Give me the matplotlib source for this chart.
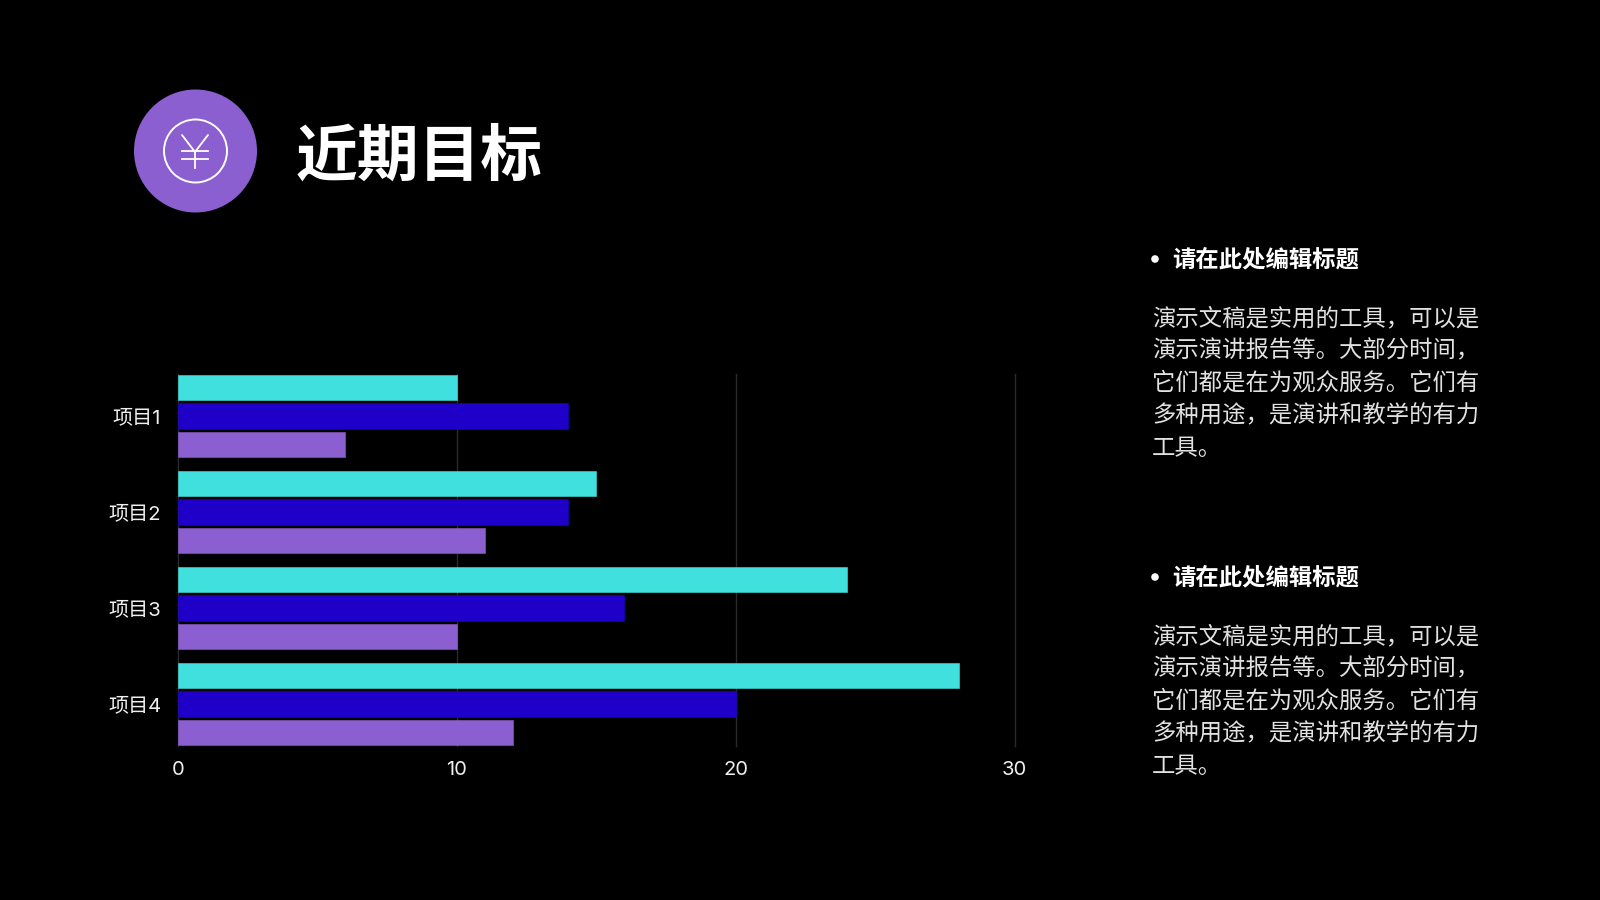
import matplotlib
matplotlib.use('Agg')
import matplotlib.pyplot as plt
from matplotlib.patches import Circle
import numpy as np

plt.rcParams['font.family'] = ['Noto Sans CJK SC', 'DejaVu Sans']

# data
projects = ['项目1', '项目2', '项目3', '项目4']
cyan_vals = [10, 15, 24, 28]
blue_vals = [14, 14, 16, 20]
purple_vals = [6, 11, 10, 12]
x_ticks = [0, 10, 20, 30]

title = '近期目标'
head = '请在此处编辑标题'
body_lines = ['演示文稿是实用的工具，可以是',
              '演示演讲报告等。大部分时间，',
              '它们都是在为观众服务。它们有',
              '多种用途，是演讲和教学的有力',
              '工具。']

CYAN = '#40E0DE'
BLUE = '#1E00C8'
PURPLE = '#8B5FCF'
W, H = 1600, 900
TICK_FONT = ['Inter', 'Noto Sans CJK SC']

fig = plt.figure(figsize=(16, 9), dpi=100, facecolor='black')

# overlay in pixel coords for the slide stuff
bg = fig.add_axes([0, 0, 1, 1])
bg.set_xlim(0, W)
bg.set_ylim(H, 0)
bg.axis('off')

# yen icon
bg.add_patch(Circle((195.5, 151), 61.5, color=PURPLE, lw=0))
bg.add_patch(Circle((195.5, 151), 31.5, fill=False, ec='white', lw=1.4))
bg.plot([182, 195, 208], [135, 152, 135], color='white', lw=1.3, solid_capstyle='round')
bg.plot([195, 195], [152, 168], color='white', lw=1.3)
bg.plot([182, 208], [151, 151], color='white', lw=1.3)
bg.plot([182, 208], [159, 159], color='white', lw=1.3)

bg.text(296, 157, title, color='white', fontsize=44.5, fontweight='bold', va='center', ha='left')

# right hand text, two identical blocks
for top in [258, 576]:
    bg.add_patch(Circle((1155, top + 1), 3.8, color='white', lw=0))
    bg.text(1172, top + 1, head, color='white', fontsize=16.8, fontweight='bold', va='center', ha='left')
    for i, line in enumerate(body_lines):
        bg.text(1152, top + 60.5 + i * 32.5, line, color='#E2E2E2', fontsize=16.8, va='center', ha='left')

# bar chart
ax = fig.add_axes([178 / W, 1 - 746 / H, (1014.5 - 178) / W, (746 - 374) / H])
ax.set_facecolor('none')
y = np.arange(len(projects))
step = 0.297
bar_h = 0.27
style = dict(height=bar_h, linewidth=0.4, joinstyle='round', zorder=3)
ax.barh(y - step, cyan_vals, color=CYAN, edgecolor=CYAN, **style)
ax.barh(y, blue_vals, color=BLUE, edgecolor=BLUE, **style)
ax.barh(y + step, purple_vals, color=PURPLE, edgecolor=PURPLE, **style)

ax.set_xlim(0, 30)
ax.set_ylim(3.4375, -0.4375)
ax.set_yticks(y)
ax.set_yticklabels(projects, color='#F0F0F0', fontsize=14.5, family=TICK_FONT)
ax.set_xticks(x_ticks)
ax.set_xticklabels([str(v) for v in x_ticks], color='#F0F0F0', fontsize=14.5, family=TICK_FONT)
ax.tick_params(axis='both', length=0)
ax.tick_params(axis='y', pad=12)
ax.tick_params(axis='x', pad=10.5)
ax.grid(axis='x', color='#2A2A2A', lw=1, zorder=0)
for g in ax.get_xgridlines():
    g.set_clip_on(False)
ax.set_axisbelow(True)
for s in ax.spines.values():
    s.set_visible(False)

fig.savefig('out.png', dpi=100, facecolor='black')
